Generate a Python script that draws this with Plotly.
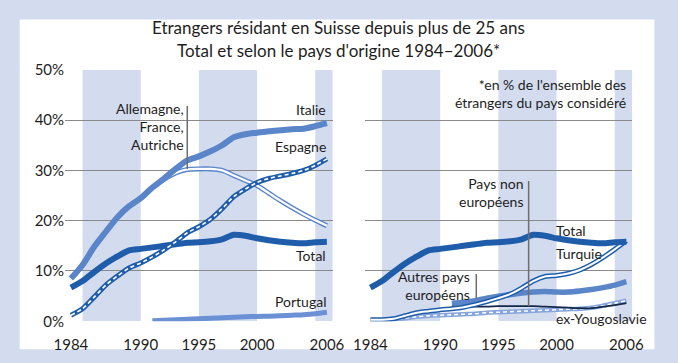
import plotly.graph_objects as go

# ---------------- data (percent) ----------------
years = list(range(1984, 2007))
years_91 = list(range(1991, 2007))

total = [6.7, 8.0, 9.8, 11.5, 12.9, 14.1, 14.4, 14.7, 15.0, 15.3, 15.6, 15.7,
         15.9, 16.3, 17.2, 17.0, 16.5, 16.1, 15.8, 15.6, 15.5, 15.7, 15.8]
italie = [8.5, 11.2, 14.8, 17.8, 20.7, 22.9, 24.5, 26.6, 28.4, 30.3, 32.0, 32.8,
          33.8, 35.0, 36.6, 37.2, 37.5, 37.8, 38.0, 38.2, 38.3, 38.8, 39.4]
espagne = [1.2, 2.5, 4.8, 7.2, 9.0, 10.6, 11.6, 12.8, 14.2, 15.8, 17.6, 18.8,
           20.3, 22.4, 24.8, 26.3, 27.6, 28.4, 28.9, 29.4, 30.0, 31.0, 32.3]
allemagne = [26.6, 28.2, 29.5, 30.2, 30.3, 30.3, 30.0, 29.0, 28.0, 27.0, 25.5,
             24.0, 22.6, 21.3, 20.1, 19.0]
portugal = [0.1, 0.2, 0.3, 0.4, 0.5, 0.6, 0.7, 0.8, 0.9, 0.95, 1.0, 1.1, 1.2,
            1.3, 1.5, 1.8]

turquie = [0.3, 0.3, 0.5, 1.1, 1.7, 2.0, 2.3, 2.5, 2.8, 3.3, 3.9, 4.6, 5.4,
           6.6, 8.0, 8.9, 9.1, 9.5, 10.2, 11.3, 12.7, 14.3, 16.0]
autres = [3.6, 3.8, 4.1, 4.6, 5.0, 5.3, 5.6, 5.8, 5.9, 5.8, 5.8, 6.0, 6.3, 6.7,
          7.2, 7.9]
non_europ = [2.9, 2.9, 2.9, 2.9, 3.0, 3.0, 3.0, 3.0, 2.9, 2.8, 2.7, 2.6, 2.6,
             2.9, 3.2, 3.6]
ex_yougo = [0.1, 0.2, 0.4, 0.6, 0.9, 1.1, 1.2, 1.3, 1.4, 1.5, 1.7, 1.8, 1.9,
            2.0, 2.1, 2.2, 2.3, 2.4, 2.5, 2.7, 3.1, 3.6, 4.1]

tick_years = [1984, 1990, 1995, 2000, 2006]
tick_labels = ["1984", "1990", "1995", "2000", "2006"]
y_ticks = [0, 10, 20, 30, 40, 50]
y_labels = ["0%", "10%", "20%", "30%", "40%", "50%"]
bands = [(1985, 1990), (1995, 2000), (2005, 2006.5)]

# ---------------- styles ----------------
DARK = "#1f5dab"
MED = "#5a85c9"
LIGHT = "#6b90d3"
YUGO = "#86a5dc"
BAND = "#d3dbee"
FONT = "Lato"
TXT = "#1e1e1e"

fig = go.Figure()


def line(x, y, color, width, axis, dash="solid"):
    xa, ya = ("x", "y") if axis == 1 else ("x2", "y2")
    fig.add_trace(go.Scatter(x=x, y=y, mode="lines", xaxis=xa, yaxis=ya,
                             line=dict(color=color, width=width, dash=dash,
                                       shape="spline", smoothing=0.7),
                             hoverinfo="skip", showlegend=False))


def double(x, y, color, axis, dashed=False, outer=5, inner=1.8):
    line(x, y, color, outer, axis)
    line(x, y, "white", inner, axis, dash="4px,3px" if dashed else "solid")


# left panel
line(years_91, portugal, LIGHT, 5, 1)
double(years_91, allemagne, MED, 1, inner=2.2)
line(years, italie, MED, 6, 1)
line(years, total, DARK, 6, 1)
double(years, espagne, DARK, 1, dashed=True, inner=1.6)

# right panel
line(years_91, autres, MED, 5.5, 2)
double(years, ex_yougo, YUGO, 2, dashed=True, outer=4.5, inner=1.5)
line(years_91, non_europ, "#14284a", 1.8, 2)
double(years, turquie, DARK, 2, inner=2)
line(years, total, DARK, 6, 2)

shapes = [dict(type="rect", xref="paper", yref="paper", x0=9 / 678, x1=666 / 678,
               y0=1 - 357 / 363, y1=1 - 10 / 363, fillcolor="white",
               line=dict(width=0), layer="below")]
for xr, yr in (("x", "y"), ("x2", "y2")):
    for a, b in bands:
        shapes.append(dict(type="rect", xref=xr, yref=yr, x0=a, x1=b, y0=0, y1=50,
                           fillcolor=BAND, line=dict(width=0), layer="below"))

# pointer lines
shapes += [
    dict(type="line", xref="x", yref="y", x0=1994, x1=1994, y0=30.3, y1=42.8,
         line=dict(color="#6e6e6e", width=1.5)),
    dict(type="line", xref="x2", yref="y2", x0=1997.6, x1=1997.6, y0=3.0, y1=27.9,
         line=dict(color="#6e6e6e", width=1.5)),
    dict(type="line", xref="x2", yref="y2", x0=1993.1, x1=1993.1, y0=4.6, y1=9.4,
         line=dict(color="#6e6e6e", width=1.5)),
]


def ann(text, x, y, axis, xanchor="right", align="right"):
    return dict(text=text, x=x, y=y, xref="x" if axis == 1 else "x2",
                yref="y" if axis == 1 else "y2", xanchor=xanchor, yanchor="middle",
                align=align, showarrow=False,
                font=dict(family=FONT, size=14, color=TXT))


annotations = [
    ann("Italie", 2006.1, 42.2, 1),
    ann("Espagne", 2006.1, 34.7, 1),
    ann("Total", 2006.1, 13.1, 1),
    ann("Portugal", 2006.1, 3.9, 1),
    ann("Allemagne,<br>France,<br>Autriche", 1993.85, 38.7, 1),
    ann("*en % de l'ensemble des<br>étrangers du pays considéré", 2006.1, 45.4, 2),
    ann("Pays non<br>européens", 1997.25, 25.6, 2),
    ann("Total", 1999.8, 18.1, 2, xanchor="left", align="left"),
    ann("Turquie", 1999.8, 13.4, 2, xanchor="left", align="left"),
    ann("Autres pays<br>européens", 1992.7, 7.1, 2),
    ann("ex-Yougoslavie", 1999.8, 0.5, 2, xanchor="left", align="left"),
    dict(text="Etrangers résidant en Suisse depuis plus de 25 ans", x=0.5,
         y=1 - 18 / 363, xref="paper", yref="paper", showarrow=False,
         xanchor="center", yanchor="middle",
         font=dict(family=FONT, size=17, color=TXT)),
    dict(text="Total et selon le pays d'origine 1984–2006*", x=0.5,
         y=1 - 43 / 363, xref="paper", yref="paper", showarrow=False,
         xanchor="center", yanchor="middle",
         font=dict(family=FONT, size=17, color=TXT)),
]

xcommon = dict(range=[1983.5, 2006.5], tickvals=tick_years, ticktext=tick_labels,
               showgrid=False, zeroline=False, showline=False, ticks="",
               ticklabelstandoff=13,
               tickfont=dict(family=FONT, size=15, color=TXT), fixedrange=True)
ycommon = dict(range=[0, 50], tickvals=y_ticks, ticktext=y_labels, showgrid=True,
               gridcolor="#8a8a8a", gridwidth=1, zeroline=False, showline=False,
               ticks="", tickfont=dict(family=FONT, size=15, color=TXT),
               fixedrange=True)

y0p = 1 - 327.5 / 363
y1p = 1 - 63 / 363
fig.update_layout(
    width=678, height=363,
    margin=dict(l=0, r=0, t=0, b=0),
    paper_bgcolor=BAND, plot_bgcolor="white",
    xaxis=dict(domain=[56 / 678, 333 / 678], anchor="y", **xcommon),
    xaxis2=dict(domain=[366 / 678, 643 / 678], anchor="y2", **xcommon),
    yaxis=dict(domain=[y0p, y1p], anchor="x", **ycommon),
    yaxis2=dict(domain=[y0p, y1p], anchor="x2", showticklabels=False,
                **{k: v for k, v in ycommon.items() if k not in ("tickvals", "ticktext")},
                tickvals=y_ticks),
    shapes=shapes,
    annotations=annotations,
    showlegend=False,
)

fig.write_html("out.html", config={"displayModeBar": False},
               post_script="document.body.style.margin='0';"
                           "document.body.style.padding='0';")
